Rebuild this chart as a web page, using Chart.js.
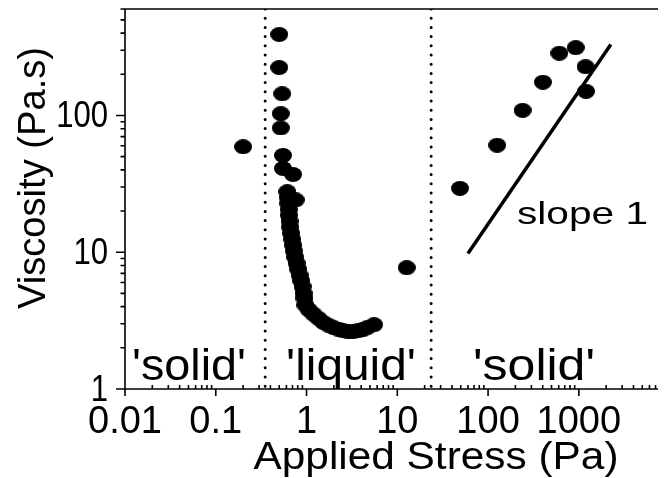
<!DOCTYPE html>
<html>
<head>
<meta charset="utf-8">
<script src="https://cdn.jsdelivr.net/npm/chart.js@4/dist/chart.umd.min.js"></script>
<style>
  html, body { margin: 0; padding: 0; background: #fff; }
  #wrap { width: 667px; height: 478px; position: relative; }
</style>
</head>
<body>
<div id="wrap"><canvas id="chart"></canvas></div>
<script>
// ── data (stress in Pa, viscosity in Pa.s) ─────────────────────
const solidLowStress = [0.2];
const solidLowVisc   = [59];

const liquidStress = [0.50, 0.50, 0.54, 0.52, 0.52, 0.55, 0.55, 0.71, 0.76,
  0.614, 0.621, 0.629, 0.636, 0.641, 0.650, 0.661, 0.678, 0.695, 0.713,
  0.725, 0.748, 0.778, 0.807, 0.838, 0.869, 0.904, 0.926, 0.949, 0.973,
  1.06, 1.19, 1.35, 1.53, 1.74, 1.97, 2.23, 2.52, 2.86, 3.24, 3.67, 4.15, 4.74, 5.55,
  12.7];
const liquidVisc = [391, 224, 144, 103, 81, 51, 41, 37, 24.1,
  27.7, 25.1, 22.7, 20.5, 18.6, 16.8, 15.2, 13.7, 12.4, 11.2,
  10.2, 9.2, 8.3, 7.5, 6.8, 6.2, 5.6, 5.0, 4.6, 4.1,
  3.79, 3.53, 3.29, 3.07, 2.93, 2.82, 2.74, 2.67, 2.62, 2.62, 2.66, 2.71, 2.83, 2.95,
  7.7];

const solidHighStress = [49, 126, 240, 402, 610, 924, 1186, 1200];
const solidHighVisc   = [29.3, 60.6, 109, 175, 285, 313, 227, 150];

const slopeStress = [60, 2250];
const slopeVisc   = [9.8, 330];

const boundaryStress = [0.35, 23.6];

const xTickValues = [0.01, 0.1, 1, 10, 100, 1000];
const xTickLabels = ['0.01', '0.1', '1', '10', '100', '1000'];
const yTickValues = [1, 10, 100];
const yTickLabels = ['1', '10', '100'];

const regionLabels = ["'solid'", "'liquid'", "'solid'"];

const X_MIN = 0.01, X_MAX = 7450, Y_MIN = 1, Y_MAX = 600;

// ── helpers ───────────────────────────────────────────────────
function pts(xs, ys) { return xs.map((x, i) => ({ x: x, y: ys[i] })); }

function makeDot(w, h) {
  const c = document.createElement('canvas');
  c.width = w; c.height = h;
  const g = c.getContext('2d');
  g.fillStyle = '#000';
  g.beginPath();
  g.ellipse(w / 2, h / 2, w / 2, h / 2, 0, 0, Math.PI * 2);
  g.fill();
  return c;
}
const dot = makeDot(18, 15);

const FONT = '"Liberation Sans", Arial, Helvetica, sans-serif';

// text squeezed/stretched horizontally to a target width
function fitText(ctx, text, x, y, size, width, align) {
  ctx.font = size + 'px ' + FONT;
  const w = ctx.measureText(text).width;
  const sx = width ? width / w : 1;
  ctx.save();
  ctx.translate(x, y);
  ctx.scale(sx, 1);
  ctx.textAlign = align || 'left';
  ctx.textBaseline = 'alphabetic';
  ctx.fillText(text, 0, 0);
  ctx.restore();
}

function decadeTicks(min, max) {
  const out = [];
  for (let d = Math.floor(Math.log10(min)); d <= Math.ceil(Math.log10(max)); d++) {
    for (let m = 1; m <= 9; m++) {
      const v = m * Math.pow(10, d);
      if (v >= min * 0.999 && v <= max * 1.001) out.push({ v: v, major: m === 1 });
    }
  }
  return out;
}

// ── axes, ticks and texts drawn against the chart's own scales ──
const axesPlugin = {
  id: 'axesPlugin',
  beforeDatasetsDraw(chart) {
    const ctx = chart.ctx, a = chart.chartArea;
    const xs = chart.scales.x, ys = chart.scales.y;
    ctx.save();
    ctx.strokeStyle = '#000';
    ctx.lineWidth = 1.6;
    ctx.beginPath();
    ctx.moveTo(a.left, a.top);   ctx.lineTo(a.right, a.top);
    ctx.moveTo(a.left, a.top);   ctx.lineTo(a.left, a.bottom);
    ctx.moveTo(a.left, a.bottom); ctx.lineTo(a.right, a.bottom);
    decadeTicks(X_MIN, X_MAX).forEach(t => {
      const px = xs.getPixelForValue(t.v);
      if (t.major) { ctx.moveTo(px, a.bottom); ctx.lineTo(px, a.bottom + 7); }
      else { ctx.moveTo(px, a.bottom); ctx.lineTo(px, a.bottom - 4); }
    });
    decadeTicks(Y_MIN, Y_MAX).forEach(t => {
      const py = ys.getPixelForValue(t.v);
      ctx.moveTo(a.left, py);
      ctx.lineTo(a.left - (t.major ? 9 : 4.5), py);
    });
    ctx.stroke();
    ctx.restore();
  },
  afterDraw(chart) {
    const ctx = chart.ctx;
    const xs = chart.scales.x, ys = chart.scales.y;
    ctx.save();
    ctx.fillStyle = '#000';
    xTickValues.forEach((v, i) => {
      fitText(ctx, xTickLabels[i], xs.getPixelForValue(v), 433, 38, 0, 'center');
    });
    yTickValues.forEach((v, i) => {
      const py = ys.getPixelForValue(v);
      ctx.font = '37px ' + FONT;
      const w = ctx.measureText(yTickLabels[i]).width * 0.84;
      fitText(ctx, yTickLabels[i], 108, py + 12, 37, w, 'right');
    });
    // axis titles
    fitText(ctx, 'Applied Stress (Pa)', 436, 469, 38, 365, 'center');
    ctx.save();
    ctx.translate(45, 178);
    ctx.rotate(-Math.PI / 2);
    fitText(ctx, 'Viscosity (Pa.s)', 0, 0, 38, 262, 'center');
    ctx.restore();
    // region labels
    fitText(ctx, regionLabels[0], 132, 380, 44, 114, 'left');
    fitText(ctx, regionLabels[1], 286, 380, 44, 130, 'left');
    fitText(ctx, regionLabels[2], 473, 380, 44, 122, 'left');
    fitText(ctx, 'slope 1', 517, 224, 32, 131, 'left');
    ctx.restore();
  }
};

const dotStyle = {
  showLine: false,
  pointStyle: dot,
  pointRadius: 8,
  pointHoverRadius: 8,
  backgroundColor: '#000',
  borderColor: '#000'
};

new Chart(document.getElementById('chart'), {
  type: 'scatter',
  data: {
    datasets: [
      Object.assign({ label: 'solid (low)', data: pts(solidLowStress, solidLowVisc) }, dotStyle),
      Object.assign({ label: 'liquid', data: pts(liquidStress, liquidVisc) }, dotStyle),
      Object.assign({ label: 'solid (high)', data: pts(solidHighStress, solidHighVisc) }, dotStyle),
      {
        label: 'slope 1', type: 'line',
        data: pts(slopeStress, slopeVisc),
        borderColor: '#000', borderWidth: 3.5, pointRadius: 0, fill: false
      },
      {
        label: 'boundary 1', type: 'line',
        data: pts([boundaryStress[0], boundaryStress[0]], [Y_MAX, Y_MIN]),
        borderColor: '#000', borderWidth: 3, borderDash: [0, 9.2],
        borderCapStyle: 'round', pointRadius: 0, fill: false
      },
      {
        label: 'boundary 2', type: 'line',
        data: pts([boundaryStress[1], boundaryStress[1]], [Y_MAX, Y_MIN]),
        borderColor: '#000', borderWidth: 3, borderDash: [0, 9.2],
        borderCapStyle: 'round', pointRadius: 0, fill: false
      }
    ]
  },
  options: {
    responsive: true,
    maintainAspectRatio: false,
    animation: false,
    layout: { padding: { left: 125, top: 6, right: 0, bottom: 89 } },
    plugins: { legend: { display: false }, tooltip: { enabled: false } },
    scales: {
      x: { type: 'logarithmic', min: X_MIN, max: X_MAX, display: false },
      y: { type: 'logarithmic', min: Y_MIN, max: Y_MAX, display: false }
    }
  },
  plugins: [axesPlugin]
});
</script>
</body>
</html>
